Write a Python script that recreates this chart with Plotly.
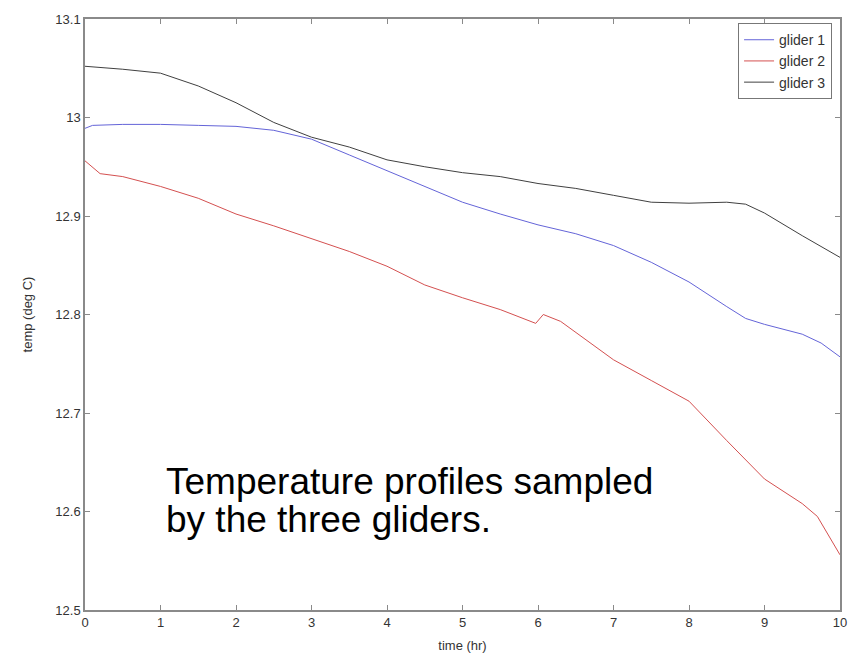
import plotly.graph_objects as go

# ---- data ----
time_g1 = [0, 0.1, 0.5, 1.0, 1.5, 2.0, 2.5, 3.0, 3.5, 4.0, 4.5, 5.0, 5.5, 6.0, 6.5,
           7.0, 7.5, 8.0, 8.5, 8.75, 9.0, 9.5, 9.75, 10.0]
temp_g1 = [12.989, 12.992, 12.993, 12.993, 12.992, 12.991, 12.987, 12.978, 12.962, 12.946,
           12.930, 12.914, 12.902, 12.891, 12.882, 12.870, 12.853, 12.833, 12.808, 12.796,
           12.790, 12.780, 12.771, 12.757]

time_g2 = [0, 0.2, 0.5, 1.0, 1.5, 2.0, 2.5, 3.0, 3.5, 4.0, 4.5, 5.0, 5.5, 5.97, 6.07,
           6.3, 6.5, 7.0, 7.5, 8.0, 8.5, 9.0, 9.5, 9.7, 10.0]
temp_g2 = [12.956, 12.943, 12.940, 12.930, 12.918, 12.902, 12.890, 12.877, 12.864, 12.849,
           12.830, 12.817, 12.805, 12.791, 12.800, 12.793, 12.782, 12.754, 12.733, 12.712,
           12.672, 12.633, 12.608, 12.595, 12.556]

time_g3 = [0, 0.5, 1.0, 1.5, 2.0, 2.5, 3.0, 3.5, 4.0, 4.5, 5.0, 5.5, 6.0, 6.5, 7.0,
           7.5, 8.0, 8.5, 8.75, 9.0, 9.5, 10.0]
temp_g3 = [13.052, 13.049, 13.045, 13.032, 13.015, 12.995, 12.980, 12.970, 12.957, 12.950,
           12.944, 12.940, 12.933, 12.928, 12.921, 12.914, 12.913, 12.914, 12.912, 12.903,
           12.880, 12.858]

series_names = ["glider 1", "glider 2", "glider 3"]
x_ticks = list(range(0, 11))
y_ticks = [12.5, 12.6, 12.7, 12.8, 12.9, 13.0, 13.1]
y_tick_text = ["12.5", "12.6", "12.7", "12.8", "12.9", "13", "13.1"]
note_lines = ["Temperature profiles sampled", "by the three gliders."]

colors = ["#6464d8", "#d45050", "#404040"]
FONT = "Liberation Sans, Arial, sans-serif"

fig = go.Figure()
for name, xs, ys, c in zip(series_names,
                           [time_g1, time_g2, time_g3],
                           [temp_g1, temp_g2, temp_g3], colors):
    fig.add_trace(go.Scatter(x=xs, y=ys, mode="lines", name=name,
                             line=dict(color=c, width=1)))

axis_common = dict(
    showgrid=False, zeroline=False, showline=True, linecolor="#8a8a8a", linewidth=1.5,
    mirror="ticks", ticks="inside", ticklen=5, tickcolor="#8a8a8a", tickwidth=1,
    tickfont=dict(family=FONT, size=13, color="#333333"),
)

fig.update_xaxes(range=[0, 10], tickvals=x_ticks,
                 title=dict(text="time (hr)", standoff=12,
                            font=dict(family=FONT, size=13, color="#333333")),
                 **axis_common)
fig.update_yaxes(range=[12.5, 13.1], tickvals=y_ticks, ticktext=y_tick_text,
                 title=dict(text="temp (deg C)", standoff=20,
                            font=dict(family=FONT, size=13, color="#333333")),
                 **axis_common)

fig.add_annotation(x=1.05, y=12.630, xref="x", yref="y", text=note_lines[0],
                   showarrow=False, xanchor="left", yanchor="middle",
                   font=dict(family=FONT, size=37, color="black"))
fig.add_annotation(x=1.05, y=12.592, xref="x", yref="y", text=note_lines[1],
                   showarrow=False, xanchor="left", yanchor="middle",
                   font=dict(family=FONT, size=37, color="black"))

fig.update_layout(
    width=861, height=663,
    margin=dict(l=85, r=21, t=15, b=52),
    plot_bgcolor="white", paper_bgcolor="white",
    showlegend=True,
    legend=dict(x=0.9895, y=0.993, xanchor="right", yanchor="top",
                bordercolor="#777777", borderwidth=1, bgcolor="white",
                font=dict(family=FONT, size=14, color="#333333"),
                tracegroupgap=0, itemwidth=30),
)

fig.write_html("out.html")
